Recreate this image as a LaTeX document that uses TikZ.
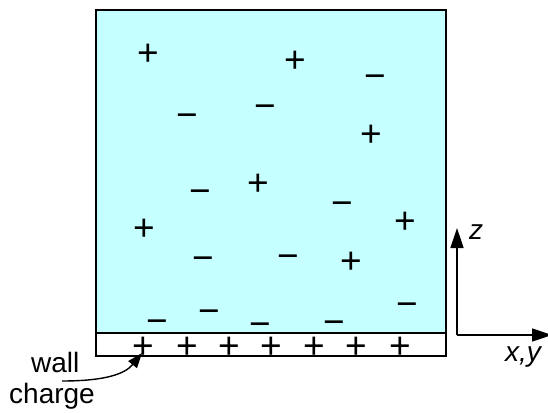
\documentclass[tikz,border=0pt]{standalone}
\usepackage{fontspec}
\setmainfont{Liberation Sans}
\usetikzlibrary{arrows.meta, positioning}
\definecolor{water}{HTML}{C6FFFF}
\tikzset{
  charge/.style={inner sep=0pt, anchor=base, yshift=-13.3pt, text height=21pt,
                 text depth=0pt, font=\fontsize{37}{37}\selectfont},
  label/.style={inner sep=0pt, font=\fontsize{28}{30}\selectfont},
  axis/.style={-{Triangle[length=20pt, width=13pt]}, line width=1.4pt},
  wall/.style={draw=black, line width=1.5pt}
}
\begin{document}
\begin{tikzpicture}[x=1pt, y=-1pt]
  \useasboundingbox (0,0) rectangle (548,412);
  % liquid and wall strip
  \coordinate (tl) at (96,10);
  \coordinate (br) at (446,333);
  \coordinate (sb) at (446,356);
  \draw[wall, fill=water] (tl) rectangle (br);
  \draw[wall, fill=white] (96,333) rectangle (sb);

  % ions in the liquid
  \foreach \n/\x/\y in {p1/148/52, p2/295/59, p3/371/133, p4/258/182,
                        p5/405/220, p6/144/227, p7/351/260}
    \node[charge] (\n) at (\x,\y) {+};
  \foreach \n/\x/\y in {m1/375/75, m2/187/114, m3/265/105, m4/200/190,
                        m5/342/202, m6/203/257, m7/288/255, m8/407/303,
                        m9/157/320, m10/209/310, m11/260/323, m12/334/321}
    \node[charge] (\n) at (\x,\y) {−};

  % wall charge
  \foreach \i/\x in {1/143, 2/187, 3/229, 4/271, 5/314, 6/356, 7/400}
    \node[charge] (w\i) at (\x,345) {+};

  \node[label, anchor=base west] (wl) at (31,372) {wall};
  \node[label, anchor=base west] (wc) at (9,403) {charge};
  \coordinate (ws) at (62,381);
  \coordinate (wt) at (142,353);
  \draw[-{Triangle[length=15pt, width=11pt]}, line width=1.4pt]
    (ws) .. controls (105,381) and (125,374) .. (wt);

  % axes
  \coordinate (o) at (457,335);
  \coordinate (zt) at (457,228);
  \coordinate (xt) at (552,335);
  \draw[axis] (o) -- (zt);
  \draw[axis] (o) -- (xt);
  \node[label, anchor=base west, font=\fontsize{28}{30}\selectfont\itshape] (z) at (469,239) {z};
  \node[label, anchor=base west, font=\fontsize{28}{30}\selectfont\itshape] (xy) at (505,361) {x,y};
\end{tikzpicture}
\end{document}
